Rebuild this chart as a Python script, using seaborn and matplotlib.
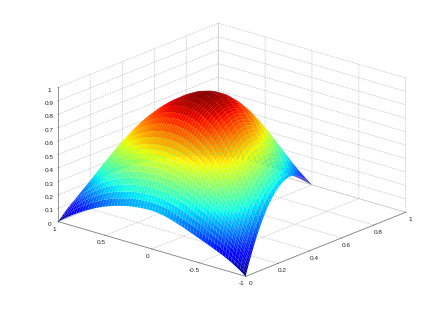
import numpy as np
import matplotlib
matplotlib.use("Agg")
import matplotlib.pyplot as plt
import seaborn as sns

sns.set_theme(style="white")
plt.rcParams["font.family"] = ["Liberation Sans", "DejaVu Sans"]

# stations along the triangle's height (y)
y_levels = [0, .01, .02, .03, .04, .05, .06, .07, .08, .09, .10, .115, .13, .15, .17, .19,
            .22, .25, .28, .32, .36, .40, .45, .5, .55, .6, .65, .7, .75, .8, .85, .9, .95, 1]
# height of the side edge at each station, read from the right-hand rim
edge_height = [0, .013, .025, .038, .050, .062, .073, .085, .096, .106, .117, .132, .147, .166,
               .183, .200, .223, .244, .262, .283, .300, .312, .322, .325, .322, .312, .296,
               .273, .244, .208, .166, .117, .062, 0]
# rise of the centre line above that edge at each station
centre_rise = [.285, .325, .360, .395, .430, .460, .490, .520, .548, .572, .595, .625, .650, .678,
               .698, .712, .725, .730, .727, .716, .697, .668, .619, .559, .492, .419, .344,
               .270, .200, .135, .080, .038, .010, 0]
# extra height of the left shoulder at each station
left_extra = [0, .012, .024, .036, .046, .055, .062, .068, .073, .077, .08, .083, .085, .087,
              .088, .088, .085, .08, .075, .065, .055, .045, .035, .028, .02, .015, .01, .006,
              .003, 0, 0, 0, 0, 0]
# how much of the front rim's dip on the right survives at each station
rim_fade = [1, .9, .8, .7, .6, .5, .42, .35, .28, .22, .16, .1, .05, .02, 0, 0, 0, 0, 0, 0, 0, 0,
            0, 0, 0, 0, 0, 0, 0, 0, 0, 0, 0, 0]
# cross-section from centre (u=0) to rim (u=1), in 33 even steps, read from the arcs
cross_section = [1, .999, .996, .991, .984, .976, .965, .952, .938, .921, .902, .882, .859, .835,
                 .809, .780, .75, .718, .684, .647, .609, .569, .527, .483, .438, .390, .340,
                 .288, .234, .179, .121, .062, 0]
# left shoulder across the same steps (u>0 side)
left_weight = [0, .01, .02, .03, .05, .07, .1, .13, .17, .21, .26, .31, .37, .43, .49, .55, .61,
               .67, .73, .78, .83, .87, .91, .94, .97, .99, 1, 1, 1, 1, 1, 1, 1]
# front rim dip across the same steps (u<0 side)
right_dip = [0, .001, .003, .005, .007, .010, .013, .016, .019, .022, .024, .026, .028, .030, .031,
             .032, .032, .032, .031, .030, .028, .026, .023, .020, .017, .014, .011, .008, .006,
             .004, .002, .001, 0]
x_ticks = [-1, -.5, 0, .5, 1]
x_labels = ["-1", "-0.5", "0", "0.5", "1"]
y_ticks = [0, .2, .4, .6, .8, 1]
y_labels = ["0", "0.2", "0.4", "0.6", "0.8", "1"]
z_ticks = [0, .1, .2, .3, .4, .5, .6, .7, .8, .9, 1]
z_labels = ["0", "0.1", "0.2", "0.3", "0.4", "0.5", "0.6", "0.7", "0.8", "0.9", "1"]

cs = np.array(cross_section)
n = len(cs)
u_half = np.linspace(0, 1, n)
u = np.concatenate([-u_half[:0:-1], u_half])
profile = np.concatenate([cs[:0:-1], cs])
shoulder = np.concatenate([np.zeros(n - 1), left_weight])
dip = np.concatenate([np.array(right_dip)[:0:-1], np.zeros(n)])
Z = (np.outer(centre_rise, profile) + np.array(edge_height)[:, None]
     + np.outer(left_extra, shoulder) - np.outer(rim_fade, dip))
U, Y = np.meshgrid(u, y_levels)
X = U * (1 - Y)

fig = plt.figure(figsize=(4.46, 3.12), dpi=100, facecolor="white")
ax = fig.add_axes([4.75 / 446, 2 / 312, 1, 1], projection="3d", proj_type="ortho", facecolor="white")
ax.view_init(elev=20, azim=-49.5)
ax.set_box_aspect((1, 1, .58), zoom=1.172)

jet = matplotlib.colormaps["jet"]
surf = ax.plot_surface(X, Y, Z, cmap=jet, vmin=0, vmax=1, rstride=1, cstride=1,
                       linewidth=.4, edgecolor="none", antialiased=True, shade=False)
surf.set_clip_on(False)

ax.set_xlim(1, -1)
ax.set_ylim(0, 1)
ax.set_zlim(0, 1)
ax.set_xticks(x_ticks, x_labels)
ax.set_yticks(y_ticks, y_labels)
ax.set_zticks(z_ticks, z_labels)
ax.zaxis.set_ticks_position("lower")
for axis in (ax.xaxis, ax.yaxis, ax.zaxis):
    axis.set_pane_color((1, 1, 1, 0))
    axis.pane.set_edgecolor("#aaaaaa")
    axis.line.set_color("#888888")
    axis.line.set_linewidth(.6)
    axis._axinfo["grid"].update(color="#a0a0a0", linestyle=":", linewidth=.5)
    axis._axinfo["tick"].update(inward_factor=.03, outward_factor=0, linewidth={True: .4, False: .4})
ax.tick_params(labelsize=4.6, colors="#222222", pad=-5)
fig.savefig("out.png", dpi=100)
